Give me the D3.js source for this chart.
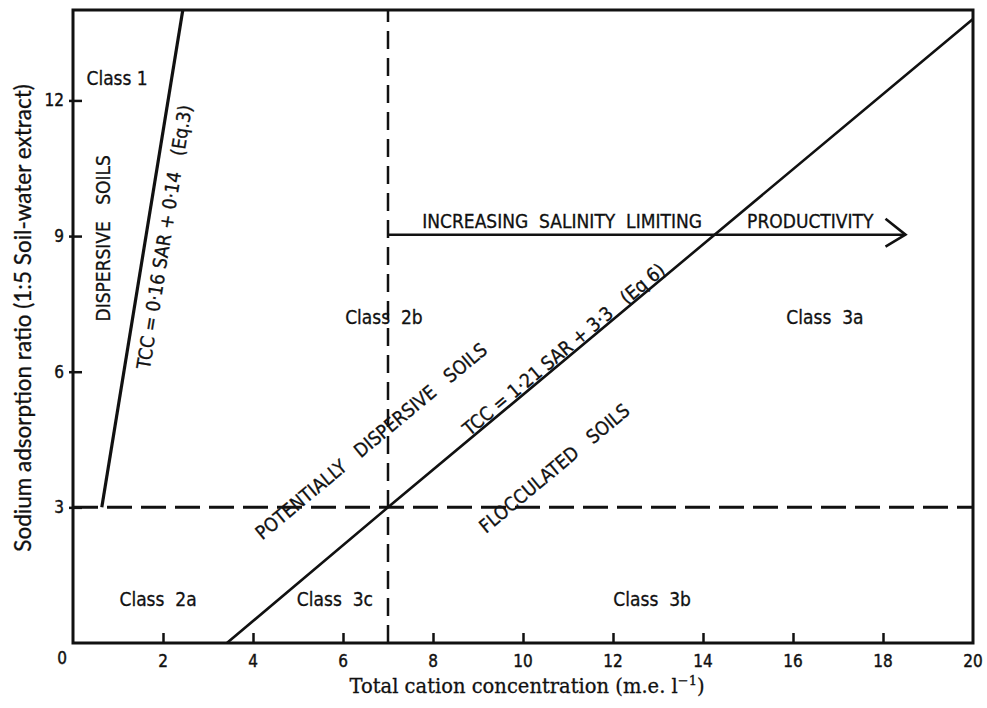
<!DOCTYPE html>
<html><head><meta charset="utf-8">
<script src="https://cdn.jsdelivr.net/npm/d3@7"></script>
<style>
body{margin:0;background:#fff;}
.lbl{font-family:"DejaVu Sans Condensed","Liberation Sans Narrow",sans-serif;font-size:19px;fill:#111;stroke:#111;stroke-width:0.3px;}
.tk{font-family:"DejaVu Sans Condensed",sans-serif;font-size:17px;fill:#111;stroke:#111;stroke-width:0.4px;}
.xtitle{font-family:"DejaVu Serif",serif;font-size:19.5px;fill:#111;stroke:#111;stroke-width:0.3px;}
.ytitle{font-family:Lato,"Open Sans",sans-serif;font-size:22.5px;fill:#111;stroke:#111;stroke-width:0.3px;}
</style></head>
<body><svg id="c" width="987" height="708"></svg>
<script>
// Axis domains and ticks
const xDomain = [0, 20];
const yDomain = [0, 14];
const xTicks = [2, 4, 6, 8, 10, 12, 14, 16, 18];
const xTickLabels = [0, 2, 4, 6, 8, 10, 12, 14, 16, 18, 20];
const yTicks = [3, 6, 9, 12];

// Boundary lines (TCC, SAR)
const eq3Line = [[0.64, 3], [2.44, 14]];          // TCC = 0.16 SAR + 0.14
const eq6Line = [[3.42, 0], [7, 3], [20, 13.8]];  // TCC = 1.21 SAR + 3.3
const sarDash = [[0, 3], [20, 3]];
const tccDash = [[7, 0], [7, 14]];
const salinityArrow = [[7, 9.03], [18.5, 9.03]];

// Region labels: [TCC, SAR, text, rotation]
const regionLabels = [
  [0.98, 12.5, "Class 1", 0],
  [0.67, 8.95, "DISPERSIVE   SOILS", -90],
  [6.91, 7.2, "Class  2b", 0],
  [16.71, 7.2, "Class  3a", 0],
  [1.89, 0.98, "Class  2a", 0],
  [5.82, 0.98, "Class  3c", 0],
  [12.87, 0.98, "Class  3b", 0],
  [6.62, 4.47, "POTENTIALLY   DISPERSIVE   SOILS", -39.8],
  [10.69, 3.87, "FLOCCULATED   SOILS", -39.8]
];
const eqLabels = [
  [2.02, 8.98, "TCC = 0·16 SAR + 0·14   (Eq.3)", -80.9],
  [10.9, 6.5, "TCC = 1·21 SAR + 3·3   (Eq 6)", -39.8]
];
const arrowText = [[7.76, 9.33, "INCREASING  SALINITY  LIMITING"], [14.98, 9.33, "PRODUCTIVITY"]];

const svg = d3.select("#c");
const W = 987, H = 708;
const x = d3.scaleLinear().domain(xDomain).range([73, 973]);
const y = d3.scaleLinear().domain(yDomain).range([643, 10]);
const line = d3.line().x(d => x(d[0])).y(d => y(d[1]));

// frame
svg.append("rect").attr("x", x(0)).attr("y", y(14)).attr("width", x(20) - x(0)).attr("height", y(0) - y(14))
  .attr("fill", "none").attr("stroke", "#111").attr("stroke-width", 3);

// axes (inward ticks)
const xAx = svg.append("g").attr("transform", `translate(0,${y(0)})`)
  .call(d3.axisBottom(x).tickValues(xTicks).tickSizeInner(-10).tickSizeOuter(0).tickFormat(""));
xAx.select(".domain").remove();
xAx.selectAll(".tick line").attr("stroke", "#111").attr("stroke-width", 2.5);
xAx.selectAll(".tick text").remove();
svg.append("g").selectAll("text").data(xTickLabels).join("text").attr("class", "tk")
  .attr("x", d => d === 0 ? x(d) - 11 : x(d)).attr("y", d => d === 0 ? y(0) + 15 : y(0) + 18)
  .attr("text-anchor", "middle").attr("dominant-baseline", "central").text(d => d);

const yAx = svg.append("g").attr("transform", `translate(${x(0)},0)`)
  .call(d3.axisLeft(y).tickValues(yTicks).tickSizeInner(-9).tickSizeOuter(0).tickPadding(9).tickFormat(d3.format("d")));
yAx.select(".domain").remove();
yAx.selectAll(".tick line").attr("stroke", "#111").attr("stroke-width", 2.5).attr("x1", -4);
yAx.selectAll(".tick text").attr("class", "tk").attr("font-size", null).attr("font-family", null);

// dashed lines
svg.append("path").attr("d", line(sarDash)).attr("fill", "none").attr("stroke", "#111")
  .attr("stroke-width", 3).attr("stroke-dasharray", "25,9");
svg.append("path").attr("d", line(tccDash)).attr("fill", "none").attr("stroke", "#111")
  .attr("stroke-width", 2.5).attr("stroke-dasharray", "18,9");

// solid lines
svg.append("path").attr("d", line(eq3Line)).attr("fill", "none").attr("stroke", "#111").attr("stroke-width", 3.2);
svg.append("path").attr("d", line(eq6Line)).attr("fill", "none").attr("stroke", "#111").attr("stroke-width", 2.6);

// arrow
svg.append("path").attr("d", line(salinityArrow)).attr("fill", "none").attr("stroke", "#111").attr("stroke-width", 2.6);
const ax = x(salinityArrow[1][0]), ay = y(salinityArrow[1][1]);
svg.append("path").attr("d", `M${ax-20},${ay-16} L${ax},${ay} L${ax-20},${ay+12}`)
  .attr("fill", "none").attr("stroke", "#111").attr("stroke-width", 2.6);

function addText(d, anchor) {
  svg.append("text").attr("class", "lbl")
    .attr("transform", `translate(${x(d[0])},${y(d[1])}) rotate(${d[3] || 0})`)
    .attr("text-anchor", anchor).attr("dominant-baseline", "central")
    .attr("xml:space", "preserve").style("white-space", "pre").text(d[2]);
}
regionLabels.forEach(d => addText(d, "middle"));
eqLabels.forEach(d => addText(d, "middle"));
arrowText.forEach(d => addText([d[0], d[1], d[2], 0], "start"));

// axis titles
svg.append("text").attr("class", "xtitle").attr("x", 527).attr("y", 693).attr("text-anchor", "middle")
  .html("Total cation concentration (m.e. l<tspan dy='-8' font-size='13'>−1</tspan><tspan dy='8'>)</tspan>");
svg.append("text").attr("class", "ytitle").attr("transform", `translate(22,318) rotate(-90)`)
  .attr("text-anchor", "middle").attr("dominant-baseline", "central")
  .text("Sodium adsorption ratio (1:5 Soil-water extract)");
</script></body></html>
